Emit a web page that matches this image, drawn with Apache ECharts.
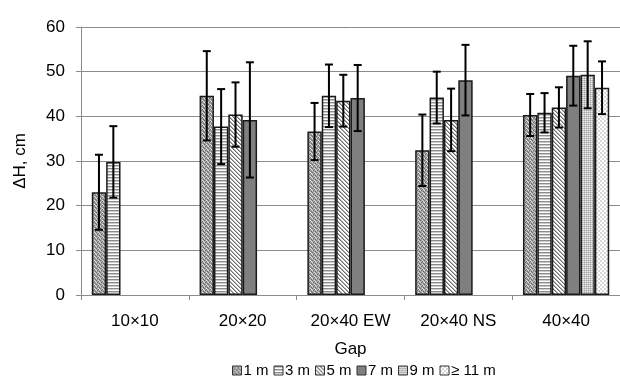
<!DOCTYPE html>
<html>
<head>
<meta charset="utf-8">
<script src="https://cdn.jsdelivr.net/npm/echarts@6/dist/echarts.min.js"></script>
<style>
  html, body { margin: 0; padding: 0; background: #fff; }
  #main { width: 620px; height: 383px; }
</style>
</head>
<body>
<div id="main"></div>
<script>
const categories = ["10×10", "20×20", "20×40 EW", "20×40 NS", "40×40"];
const seriesNames = ["1 m", "3 m", "5 m", "7 m", "9 m", "≥ 11 m"];
const yTicks = [0, 10, 20, 30, 40, 50, 60];

// mean ΔH per gap, one array per distance
const h1m = [23.0, 44.6, 36.6, 32.4, 40.3];
const h3m = [29.8, 37.7, 44.6, 44.2, 40.8];
const h5m = [null, 40.4, 43.5, 39.2, 42.0];
const h7m = [null, 39.2, 44.1, 48.1, 49.1];
const h9m = [null, null, null, null, 49.3];
const h11m = [null, null, null, null, 46.4];

// +/- error
const e1m = [8.4, 10.0, 6.4, 8.0, 4.7];
const e3m = [8.0, 8.4, 7.0, 5.8, 4.4];
const e5m = [null, 7.2, 5.8, 7.0, 4.5];
const e7m = [null, 12.9, 7.4, 7.9, 6.7];
const e9m = [null, null, null, null, 7.5];
const e11m = [null, null, null, null, 5.9];

const means = [h1m, h3m, h5m, h7m, h9m, h11m];
const errs = [e1m, e3m, e5m, e7m, e9m, e11m];

// small canvas fills to mimic the hatched bars
const pat = (size, draw) => {
  const c = document.createElement("canvas");
  c.width = c.height = size;
  const g = c.getContext("2d");
  g.fillStyle = "#fff";
  g.fillRect(0, 0, size, size);
  draw(g);
  return { image: c, repeat: "repeat" };
};
const px = (g, col, x, y) => { g.fillStyle = col; g.fillRect(x, y, 1, 1); };

const fills = [
  // 1 m: coarse gray dither
  pat(4, g => {
    g.fillStyle = "#a6a6a6"; g.fillRect(0, 0, 4, 4);
    px(g, "#6a6a6a", 0, 0); px(g, "#6a6a6a", 2, 1); px(g, "#6a6a6a", 1, 2); px(g, "#6a6a6a", 3, 3);
    px(g, "#e0e0e0", 2, 0); px(g, "#e0e0e0", 0, 2); px(g, "#e0e0e0", 3, 1);
  }),
  // 3 m: horizontal stripes
  pat(3, g => {
    g.fillStyle = "#8c8c8c"; g.fillRect(0, 0, 3, 1);
    g.fillStyle = "#cccccc"; g.fillRect(0, 1, 3, 1);
  }),
  // 5 m: diagonal stripes
  pat(4, g => {
    for (let i = 0; i < 4; i++) {
      px(g, "#6e6e6e", i, i);
      px(g, "#b0b0b0", (i + 1) % 4, i);
    }
  }),
  // 7 m: solid dark gray
  "#7f7f7f",
  // 9 m: fine light dither
  pat(2, g => {
    g.fillStyle = "#cacaca"; g.fillRect(0, 0, 2, 2);
    px(g, "#a0a0a0", 0, 0); px(g, "#e8e8e8", 1, 1);
  }),
  // >= 11 m: very light checker
  pat(4, g => {
    g.fillStyle = "#d6d6d6";
    g.fillRect(0, 0, 2, 2); g.fillRect(2, 2, 2, 2);
  })
];

const barSeries = seriesNames.map((name, i) => ({
  name: name,
  type: "bar",
  data: means[i],
  barGap: "0%",
  barCategoryGap: "20%",
  itemStyle: {
    color: fills[i],
    borderColor: "#1a1a1a",
    borderWidth: 1.5
  },
  emphasis: { disabled: true }
}));

const errData = [];
means.forEach((arr, s) => {
  arr.forEach((v, c) => {
    if (v != null) errData.push([c, s, v - errs[s][c], v + errs[s][c]]);
  });
});

const errSeries = {
  type: "custom",
  name: "err",
  data: errData,
  encode: { x: 0, y: [2, 3] },
  z: 10,
  silent: true,
  renderItem: (params, api) => {
    const band = api.size([1, 0])[0];
    const bw = band * 0.8 / seriesNames.length;
    const x = api.coord([api.value(0), 0])[0] - band * 0.4 + bw * (api.value(1) + 0.5);
    const yl = api.coord([api.value(0), api.value(2)])[1];
    const yh = api.coord([api.value(0), api.value(3)])[1];
    const w = 4;
    const st = { stroke: "#000", lineWidth: 2 };
    return {
      type: "group",
      children: [
        { type: "line", shape: { x1: x, y1: yl, x2: x, y2: yh }, style: st },
        { type: "line", shape: { x1: x - w, y1: yl, x2: x + w, y2: yl }, style: st },
        { type: "line", shape: { x1: x - w, y1: yh, x2: x + w, y2: yh }, style: st }
      ]
    };
  }
};

const chart = echarts.init(document.getElementById("main"), null, { renderer: "canvas" });
const font = "Liberation Sans";
chart.setOption({
  animation: false,
  textStyle: { fontFamily: font },
  grid: { left: 81, top: 27, width: 550, bottom: 88 },
  legend: {
    data: seriesNames,
    icon: "rect",
    left: 227,
    bottom: 0,
    itemWidth: 9,
    itemHeight: 9,
    itemGap: 5,
    selectedMode: false,
    textStyle: { fontFamily: font, fontSize: 15, color: "#000", padding: [0, 0, 0, -3] },
    itemStyle: { borderColor: "#333", borderWidth: 1 }
  },
  xAxis: {
    type: "category",
    data: categories,
    name: "Gap",
    nameLocation: "middle",
    nameGap: 46,
    nameTextStyle: { fontFamily: font, fontSize: 17, color: "#000" },
    axisLine: { lineStyle: { color: "#8c8c8c", width: 1 } },
    axisTick: { show: true, length: 5, lineStyle: { color: "#8c8c8c" } },
    axisLabel: { fontFamily: font, fontSize: 17, color: "#000", margin: 18 }
  },
  yAxis: {
    type: "value",
    min: yTicks[0],
    max: yTicks[yTicks.length - 1],
    interval: 10,
    name: "ΔH, cm",
    nameLocation: "middle",
    nameGap: 52,
    nameTextStyle: { fontFamily: font, fontSize: 17, color: "#000" },
    axisLine: { show: true, lineStyle: { color: "#8c8c8c", width: 1 } },
    axisTick: { show: true, length: 5, lineStyle: { color: "#8c8c8c" } },
    axisLabel: { fontFamily: font, fontSize: 17, color: "#000", margin: 16 },
    splitLine: { lineStyle: { color: "#8c8c8c", width: 1 } }
  },
  series: [...barSeries, errSeries]
});
</script>
</body>
</html>
